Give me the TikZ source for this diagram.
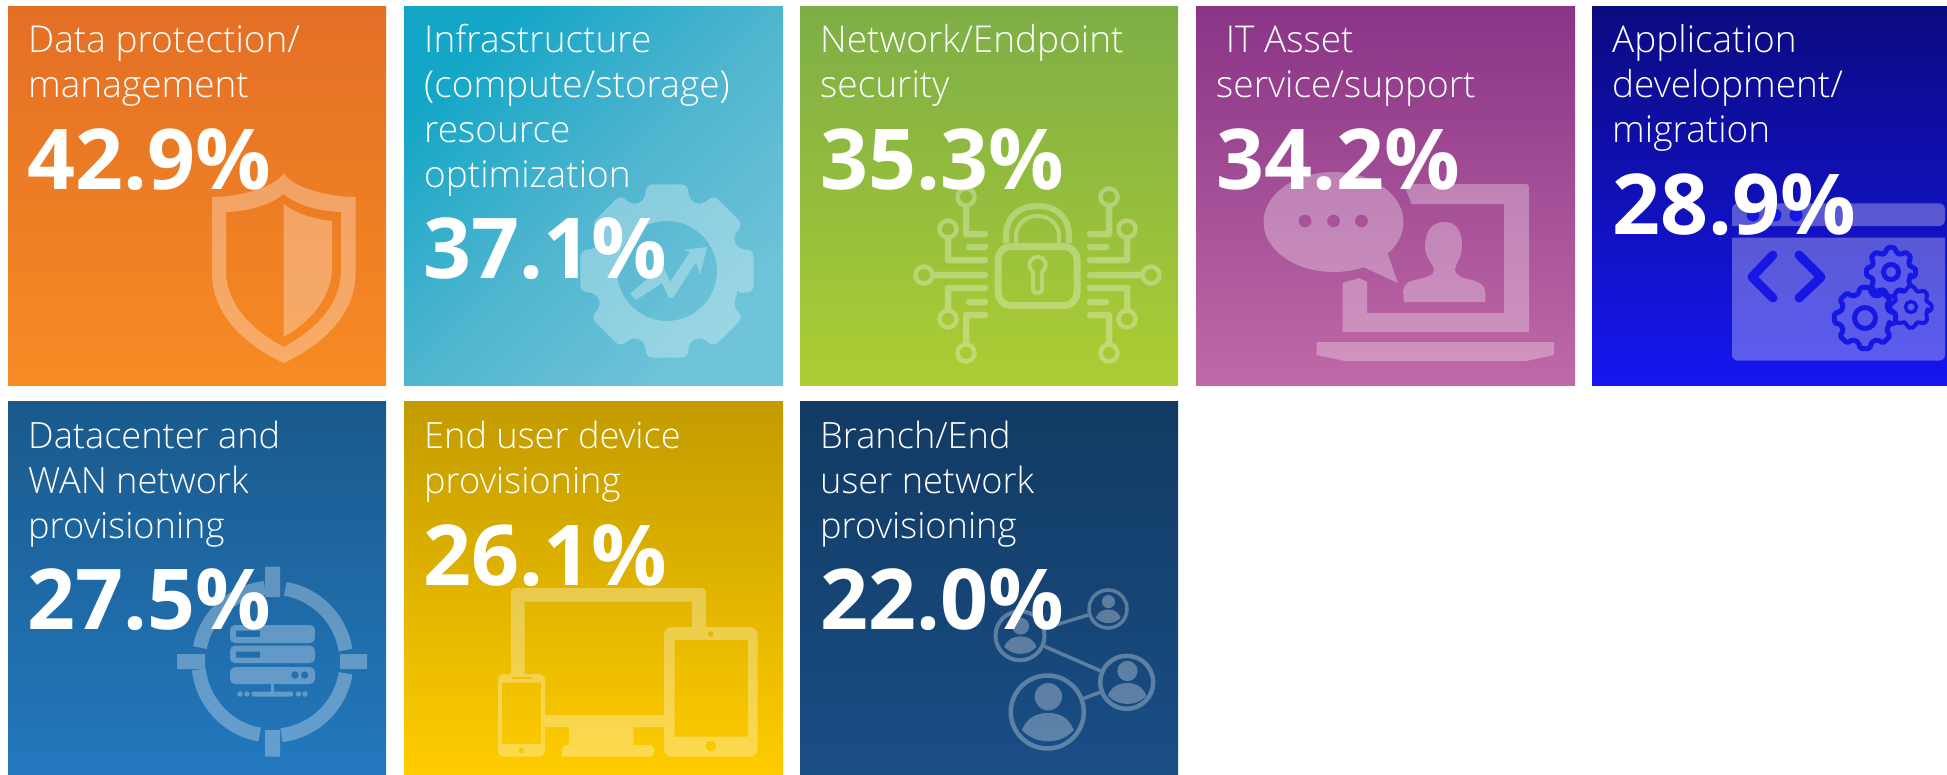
\documentclass[tikz,border=0pt]{standalone}
\usepackage{fontspec}
\setmainfont{Open Sans}
\newfontfamily\labfont{Open Sans Light}
\newfontfamily\pctfont{Open Sans}
\usetikzlibrary{calc}
\definecolor{codeblue}{HTML}{1717E4}
\definecolor{winfill}{HTML}{5B5BE8}
\tikzset{
  card/.style={anchor=north west,inner sep=0pt,minimum width=#1,minimum height=379pt,rectangle},
  cardb/.style={anchor=north west,inner sep=0pt,minimum width=#1,minimum height=373pt,rectangle},
  lab/.style={anchor=base west,inner sep=0pt,align=left,text=white,font={\labfont\fontsize{37}{45}\selectfont}},
  labb/.style={lab,font={\labfont\fontsize{36.2}{45}\selectfont}},
  pct/.style={anchor=base west,inner sep=0pt,text=white,font={\pctfont\bfseries\fontsize{84}{84}\selectfont}},
  icon/.style={transparency group,opacity=.3},
  trace/.style={draw=white,line width=6.5pt,line cap=round,line join=round},
  ringnode/.style={circle,draw=white,inner sep=0pt,fill=none},
  winblue/.style={draw=codeblue,line cap=round,line join=round},
}
\newcommand\gearpath[7]{% cx cy rout rin n hw1 hw2
  ({#1+#4*cos(#7)},{#2+#4*sin(#7)})
  \foreach \i in {1,...,#5}{
    \pgfextra{\pgfmathsetmacro\ga{\i*360/#5}}
    -- ({#1+#4*cos(\ga-#7)},{#2+#4*sin(\ga-#7)})
    -- ({#1+#3*cos(\ga-#6)},{#2+#3*sin(\ga-#6)})
    -- ({#1+#3*cos(\ga+#6)},{#2+#3*sin(\ga+#6)})
    -- ({#1+#4*cos(\ga+#7)},{#2+#4*sin(\ga+#7)})
  } -- cycle}
\newcommand\ringarc[5]{% cx cy r start end
  \draw[draw=white,line width=14pt] ({#1+#3*cos(#4)},{#2-#3*sin(#4)}) arc[start angle=#4,end angle=#5,radius=#3 pt];}
\newcommand\ringdot[3]{% x y r
  \draw[draw=white,line width=4.5pt] (#1,#2) circle[radius=#3 pt];}
\newcommand\personin[2]{% node name, scale factor
  \fill[white] ($(#1)+(#2*1,#2*-15.3)$) circle[radius=#2*13.7 pt];
  \fill[white] ($(#1)+(#2*-25.5,#2*18)$) .. controls ($(#1)+(#2*-20,#2*5)$) and ($(#1)+(#2*-10,#2*1)$) .. ($(#1)+(#2*1,#2*1)$)
     .. controls ($(#1)+(#2*12,#2*1)$) and ($(#1)+(#2*21,#2*5)$) .. ($(#1)+(#2*26.5,#2*18)$)
     .. controls ($(#1)+(#2*14,#2*33)$) and ($(#1)+(#2*-12,#2*33)$) .. cycle;}
\begin{document}
\begin{tikzpicture}[x=1pt,y=-1pt]
\useasboundingbox (0,0) rectangle (1947,774);
% ---------- cards
\definecolor{a1}{HTML}{E36F25}\definecolor{a2}{HTML}{F78B24}
\definecolor{b1}{HTML}{14A6C7}\definecolor{b2}{HTML}{70C4D9}\definecolor{b3}{HTML}{4FB5CF}
\definecolor{d1}{HTML}{7DAE47}\definecolor{d2}{HTML}{ACCD33}
\definecolor{e1}{HTML}{893486}\definecolor{e2}{HTML}{C069A8}
\definecolor{f1}{HTML}{0B0B80}\definecolor{f2}{HTML}{1616F0}
\definecolor{g1}{HTML}{1A5A8C}\definecolor{g2}{HTML}{2378BE}
\definecolor{h1}{HTML}{C29B00}\definecolor{h2}{HTML}{FFCC00}
\definecolor{k1}{HTML}{123A63}\definecolor{k2}{HTML}{194E85}
\node[card=378pt,top color=a1,bottom color=a2] (c1) at (8,6) {};
\node[card=379pt,top color=b1,bottom color=b2,middle color=b3,shading angle=45] (c2) at (404,6) {};
\node[card=378pt,top color=d1,bottom color=d2] (c3) at (800,6) {};
\node[card=379pt,top color=e1,bottom color=e2] (c4) at (1196,6) {};
\node[card=355pt,top color=f1,bottom color=f2] (c5) at (1592,6) {};
\node[cardb=378pt,top color=g1,bottom color=g2] (c6) at (8,401) {};
\node[cardb=379pt,top color=h1,bottom color=h2] (c7) at (404,401) {};
\node[cardb=378pt,top color=k1,bottom color=k2] (c8) at (800,401) {};
% ---------- shield
\begin{scope}[icon]
\fill[white,even odd rule]
  (283.7,173) .. controls (276,187) and (240,197) .. (212,197) -- (212,273)
  .. controls (212,315) and (245,345) .. (283.7,363)
  .. controls (322,345) and (355.6,315) .. (355.6,273) -- (355.6,197)
  .. controls (327,197) and (291,187) .. (283.7,173) -- cycle
  (283.7,194) .. controls (270,205) and (250,211) .. (226,212) -- (226,270)
  .. controls (226,305) and (252,330) .. (283.7,347)
  .. controls (315,330) and (341,305) .. (341,270) -- (341,212)
  .. controls (317,211) and (297,205) .. (283.7,194) -- cycle;
\fill[white] (283.7,204) .. controls (295,213) and (312,219) .. (332,221) -- (332,267)
  .. controls (332,298) and (310,322) .. (283.7,337) -- cycle;
\end{scope}
% ---------- gear with trend arrow
\begin{scope}[icon]
\fill[white,even odd rule,rounded corners=5pt] \gearpath{667}{271}{89}{74}{8}{13}{18}
  [sharp corners] (667,271) circle[radius=50pt];
\end{scope}
\begin{scope}[icon]
\fill[white] (707,247) -- (700,275) -- (696,262) -- (673,298) -- (669,298) -- (662,283) -- (636,300) -- (630,294) -- (660,268) -- (664,268) -- (670,282) -- (690,252) -- (683,250) -- cycle;
\end{scope}
% ---------- circuit lock
\begin{scope}[icon]
\draw[draw=white,line width=7pt,rounded corners=13pt] (998,246.5) rectangle (1077,305.5);
\draw[draw=white,line width=6pt] (1006,243) -- (1006,236) .. controls (1006,216) and (1020,206) .. (1037.5,206) .. controls (1055,206) and (1069,216) .. (1069,236) -- (1069,243);
\draw[draw=white,line width=4pt] (1016,243) -- (1016,236) .. controls (1016,224) and (1026,216) .. (1037.5,216) .. controls (1049,216) and (1059,224) .. (1059,236) -- (1059,243);
\draw[draw=white,line width=4pt,line join=round] (1033,272) .. controls (1026,265) and (1030,257) .. (1037.5,257) .. controls (1045,257) and (1049,265) .. (1042,272) -- (1042,290) .. controls (1041,294) and (1034,294) .. (1033,290) -- cycle;
\foreach \sx/\oo in {1/0,-1/2075}{
\begin{scope}[shift={(\oo,0)},xscale=\sx]
\draw[trace] (966,207) -- (966,234) -- (985,234);
\draw[trace] (948,239) -- (948,260) -- (985,260);
\draw[trace] (969,247) -- (985,247);
\draw[trace] (934,275) -- (985,275);
\draw[trace] (948,309) -- (948,288) -- (985,288);
\draw[trace] (969,302) -- (985,302);
\draw[trace] (966,343) -- (966,315) -- (985,315);
\ringdot{966}{197}{8.5}
\ringdot{948}{229}{8.5}
\ringdot{924}{275}{8.5}
\ringdot{948}{319}{8.5}
\ringdot{966}{353}{8.5}
\end{scope}}
\end{scope}
% ---------- laptop, bubble, person
\begin{scope}[icon]
\fill[white] (1404,184) -- (1526,184) [rounded corners=3pt] -- (1529,184) [sharp corners] -- (1529,332) -- (1342.5,332) -- (1342.5,283) -- (1359,278) -- (1367,282) -- (1367,313) -- (1504,313) -- (1504,204) -- (1411.5,204) -- cycle;
\fill[white,even odd rule] (1333.5,222) ellipse[x radius=70pt,y radius=50pt]
  (1305,221) circle[radius=6.5pt] (1333.5,221) circle[radius=6.5pt] (1361.5,221) circle[radius=6.5pt];
\fill[white] (1387,252) -- (1398,283) -- (1361,266) -- cycle;
\fill[white] (1404,302) -- (1403,292) .. controls (1404,284) and (1408,281) .. (1415,280) .. controls (1428,277) and (1434,275) .. (1434,270)
  .. controls (1434,265) and (1425,258) .. (1425,247) .. controls (1425,230) and (1433,222) .. (1444,222) .. controls (1456,222) and (1462,230) .. (1462,247)
  .. controls (1462,258) and (1455,264) .. (1455,270) .. controls (1456,276) and (1462,278) .. (1472,280) .. controls (1480,282) and (1485,286) .. (1485.4,292) -- (1485.4,302) -- cycle;
\fill[white] (1316.5,342) -- (1554,342) -- (1554,355) -- (1526,361) -- (1345,361) -- (1316.5,355) -- cycle;
\end{scope}
% ---------- app window with code and gears
\fill[white,opacity=.3,rounded corners=6pt] (1732,226) -- (1732,203.3) -- (1945,203.3) -- (1945,226) [sharp corners] -- cycle;
\fill[white,opacity=.3,rounded corners=6pt] (1732,237.7) [sharp corners] -- (1945,237.7) [rounded corners=6pt] -- (1945,360.7) -- (1732,360.7) [sharp corners] -- cycle;
\fill[codeblue] (1753,215) circle[radius=6.5pt] (1775,215) circle[radius=6.5pt] (1796,215) circle[radius=6.5pt];
\draw[winblue,line width=9pt] (1773,255) -- (1752,277) -- (1773,298);
\draw[winblue,line width=9pt] (1799,255) -- (1821,277) -- (1799,298);
\draw[winblue,fill=winfill,line width=5pt,rounded corners=2pt] \gearpath{1891}{272}{25}{20}{8}{10}{14};
\draw[winblue,line width=5pt] (1891,272) circle[radius=7.5pt];
\draw[winblue,fill=winfill,line width=4pt,rounded corners=2pt] \gearpath{1911}{307}{21}{17}{8}{10}{14};
\draw[winblue,line width=3.5pt] (1911,307) circle[radius=5.5pt];
\draw[winblue,fill=winfill,line width=5pt,rounded corners=2pt] \gearpath{1865}{318}{31}{25}{8}{10}{14};
\draw[winblue,line width=5pt] (1865,318) circle[radius=10.5pt];
% ---------- server ring
\begin{scope}[icon]
\ringarc{272.5}{661.7}{74}{80}{9}
\ringarc{272.5}{661.7}{74}{-9}{-83}
\ringarc{272.5}{661.7}{74}{-100}{-174}
\ringarc{272.5}{661.7}{74}{169}{96}
\fill[white] (265,566.7) rectangle (280,597);
\fill[white] (265,730) rectangle (280,756.7);
\fill[white] (177,654) rectangle (205,669);
\fill[white] (340,654) rectangle (367,669);
\fill[white,even odd rule] [rounded corners=5pt] (230,625) rectangle (315,643) [sharp corners] (236,630.7) rectangle (260,637);
\fill[white,even odd rule] [rounded corners=5pt] (230,645.7) rectangle (315,663) [sharp corners] (236,651.7) rectangle (260,657.7);
\fill[white,even odd rule] [rounded corners=5pt] (230,667) rectangle (315,684) [sharp corners] (295,675) circle[radius=3.8pt] (304.6,675) circle[radius=3.8pt];
\fill[white] (271,684) rectangle (274,693);
\fill[white,rounded corners=2pt] (251.5,691.5) rectangle (293,696.5);
\fill[white] (240,694) circle[radius=2.7pt] (247,694) circle[radius=2.7pt] (298.5,694) circle[radius=2.7pt] (305,694) circle[radius=2.7pt];
\end{scope}
% ---------- devices
\begin{scope}[icon]
\fill[white] (511,674) -- (511,592) [rounded corners=4pt] -- (511,588) -- (706,588) [sharp corners] -- (706,627) -- (692,627) -- (692,601.7) -- (524.5,601.7) -- (524.5,674) -- cycle;
\fill[white] (545,715) rectangle (664,727);
\fill[white] (569,727) rectangle (633.7,745);
\fill[white,rounded corners=4pt] (562,756.7) -- (562,745) -- (654,745) -- (654,756.7) [sharp corners] -- cycle;
\fill[white,even odd rule] [rounded corners=8pt] (664,627) rectangle (757.6,756.7) [sharp corners] (674.5,640) rectangle (748,736.7)
  (710.7,634) circle[radius=3pt] (710.7,746) circle[radius=5.5pt];
\fill[white,even odd rule] [rounded corners=6pt] (498,674) rectangle (545,756.7) [sharp corners] (502,682.7) rectangle (541,744)
  (521,750.7) circle[radius=3pt] (512,677) rectangle (532,679);
\end{scope}
% ---------- people network
\begin{scope}[icon]
\node[ringnode,line width=4pt,minimum size=49pt] (pA) at (1020,635.7) {};
\node[ringnode,line width=3.5pt,minimum size=38pt] (pB) at (1108,609) {};
\node[ringnode,line width=4.5pt,minimum size=53pt] (pC) at (1126.7,682.3) {};
\node[ringnode,line width=4.5pt,minimum size=73pt] (pD) at (1047.3,712) {};
\draw[white,line width=3.5pt] (pA) -- (pB);
\draw[white,line width=3.5pt] (pA) -- (pC);
\draw[white,line width=3.5pt] (pC) -- (pD);
\personin{pA}{.62}
\personin{pB}{.48}
\personin{pC}{.74}
\personin{pD}{1}
\end{scope}
% ---------- texts
\node[lab] (t1) at (28,97) {Data protection/\\management};
\node[pct] (v1) at (27,189) {42.9\%};
\node[lab] (t2) at (424,187) {Infrastructure\\(compute/storage)\\resource\\optimization};
\node[pct] (v2) at (423,278) {37.1\%};
\node[lab] (t3) at (820,97) {Network/Endpoint\\security};
\node[pct] (v3) at (820,189) {35.3\%};
\node[lab] (t4) at (1216,97) {\ IT Asset\\service/support};
\node[pct] (v4) at (1216,189) {34.2\%};
\node[lab] (t5) at (1612,142) {Application\\development/\\migration};
\node[pct] (v5) at (1612,234) {28.9\%};
\node[labb] (t6) at (28,538) {Datacenter and\\WAN network\\provisioning};
\node[pct] (v6) at (27,629) {27.5\%};
\node[labb] (t7) at (424,493) {End user device\\provisioning};
\node[pct] (v7) at (423,585) {26.1\%};
\node[labb] (t8) at (820,538) {Branch/End\\user network\\provisioning};
\node[pct] (v8) at (820,629) {22.0\%};
\end{tikzpicture}
\end{document}
